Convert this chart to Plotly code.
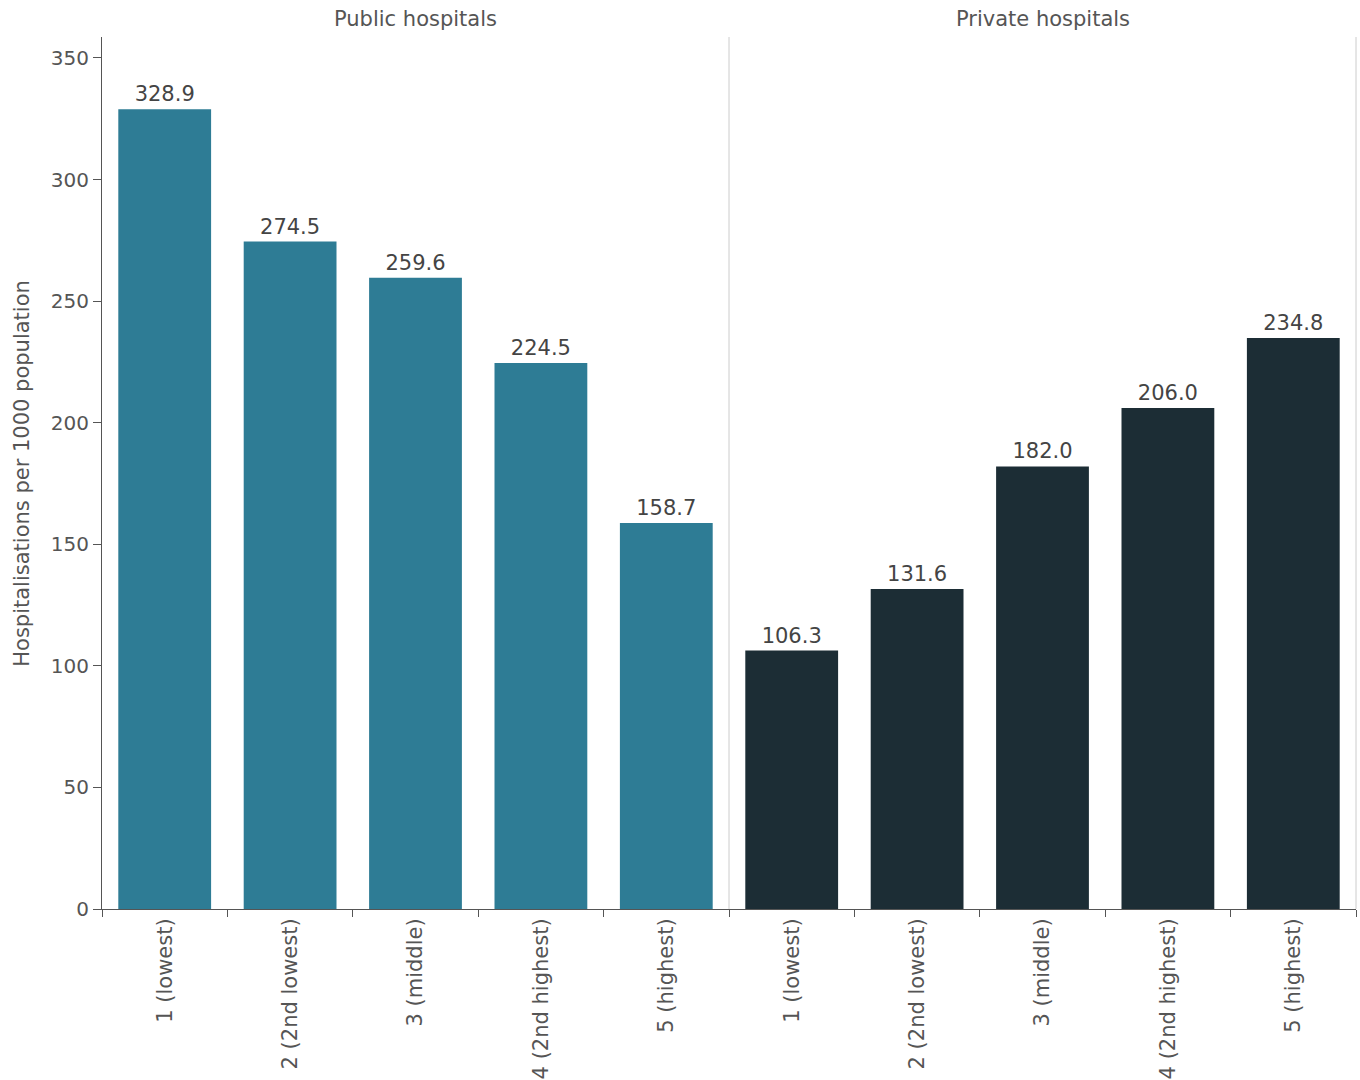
import plotly.graph_objects as go
from plotly.subplots import make_subplots

categories = ["1 (lowest)", "2 (2nd lowest)", "3 (middle)", "4 (2nd highest)", "5 (highest)"]
public_values = [328.9, 274.5, 259.6, 224.5, 158.7]
private_values = [106.3, 131.6, 182.0, 206.0, 234.8]
panel_titles = ["Public hospitals", "Private hospitals"]
y_ticks = [0, 50, 100, 150, 200, 250, 300, 350]
y_title = "Hospitalisations per 1000 population"

FONT = "DejaVu Sans"
TXT = "#555555"
FS = 21

fig = make_subplots(rows=1, cols=2, shared_yaxes=True, horizontal_spacing=0)

for i, (vals, color) in enumerate([(public_values, "#2E7C95"), (private_values, "#1C2D35")]):
    fig.add_trace(go.Bar(
        x=categories, y=vals, marker=dict(color=color, line=dict(width=0)),
        texttemplate="%{y:.1f}", textposition="outside", cliponaxis=False,
        textfont=dict(family=FONT, size=FS, color="#444444"),
        showlegend=False,
    ), row=1, col=i + 1)

fig.update_layout(
    template="none",
    width=1360, height=1080,
    margin=dict(l=102, r=4, t=37, b=171),
    plot_bgcolor="white", paper_bgcolor="white",
    bargap=0.26,
    font=dict(family=FONT, size=FS, color=TXT),
)

for c in (1, 2):
    fig.update_xaxes(
        row=1, col=c, showline=True, linecolor="#555555", linewidth=1, automargin=False,
        ticks="outside", tickson="boundaries", ticklen=7, tickcolor="#555555",
        tickangle=-90, showgrid=False, tickfont=dict(family=FONT, size=FS, color=TXT),
    )

fig.update_yaxes(
    row=1, col=1, range=[0, 358.6], tickvals=y_ticks, showline=True, linecolor="#555555",
    ticks="outside", ticklen=8, tickcolor="#555555", showgrid=False, zeroline=False,
    automargin=False, tickfont=dict(family=FONT, size=20, color=TXT),
)
fig.update_yaxes(row=1, col=2, range=[0, 358.6], showgrid=False, zeroline=False, ticks="",
                 showline=False, automargin=False)

fig.add_annotation(text=y_title, xref="paper", yref="paper", x=-0.064, y=0.5,
                   xanchor="center", yanchor="middle", textangle=-90, showarrow=False,
                   font=dict(family=FONT, size=FS, color=TXT))

fig.add_shape(type="line", xref="paper", yref="paper", x0=0.5, x1=0.5, y0=0, y1=1,
              line=dict(color="#cccccc", width=1))
fig.add_shape(type="line", xref="paper", yref="paper", x0=1, x1=1, y0=0, y1=1,
              line=dict(color="#cccccc", width=1))

for j, t in enumerate(panel_titles):
    fig.add_annotation(text=t, xref="paper", yref="paper", x=0.25 + 0.5 * j, y=1,
                       xanchor="center", yanchor="bottom", yshift=4, showarrow=False,
                       font=dict(family=FONT, size=FS, color=TXT))

fig.write_html("out.html")
